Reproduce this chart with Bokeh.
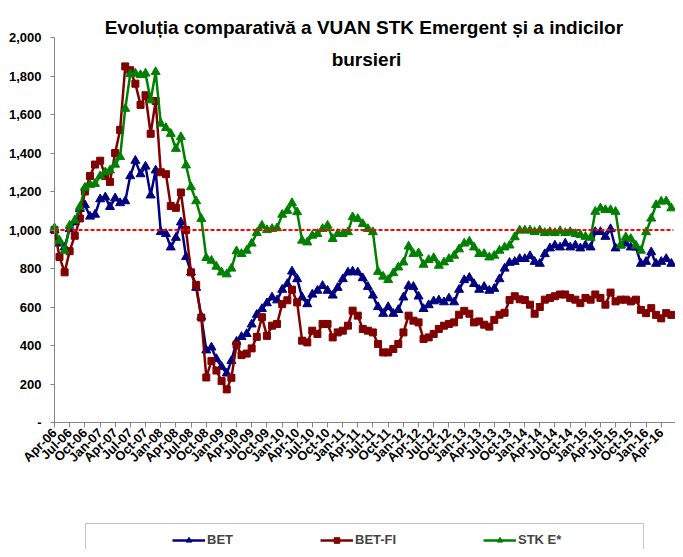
from math import pi
import pandas as pd
from bokeh.plotting import figure
from bokeh.models import (Range1d, Label, Legend, LegendItem, DatetimeTickFormatter,
                          MonthsTicker, CustomJSTickFormatter, FixedTicker, BoxAnnotation)
from bokeh.embed import file_html
from bokeh.resources import INLINE

first_month = "2006-04-01"

bet = [1000, 930, 910, 1005, 1040, 1110, 1130, 1070, 1080, 1160, 1170, 1120, 1165, 1140, 1150,
       1280, 1360, 1290, 1330, 1180, 1310, 990, 980, 910, 960, 1040, 860, 780, 700, 550,
       375, 390, 330, 290, 255, 320, 420, 445, 460, 510, 560, 590, 620, 650, 635,
       690, 720, 785, 745, 650, 615, 665, 685, 710, 685, 660, 700, 745, 780, 785,
       780, 750, 705, 660, 600, 565, 600, 565, 585, 650, 710, 705, 655, 590, 610,
       630, 635, 625, 645, 625, 690, 740, 752, 720, 690, 705, 685, 695, 745, 800,
       830, 835, 850, 850, 865, 835, 825, 875, 905, 920, 910, 930, 910, 920, 905,
       920, 910, 990, 990, 965, 1005, 905, 920, 930, 910, 910, 825, 835, 885, 825,
       835, 850, 825]

bet_fi = [1000, 860, 780, 890, 970, 1060, 1200, 1280, 1340, 1360, 1280, 1250, 1400, 1520, 1850,
          1830, 1760, 1650, 1700, 1500, 1670, 1300, 1290, 1125, 1115, 1195, 1000, 780, 715, 545,
          234, 320, 270, 215, 172, 232, 405, 350, 358, 385, 445, 547, 450, 503, 512,
          615, 635, 690, 624, 425, 416, 477, 460, 512, 512, 442, 468, 477, 503, 581,
          555, 486, 477, 468, 408, 364, 364, 382, 408, 468, 555, 529, 520, 434, 442,
          460, 486, 503, 512, 520, 560, 580, 565, 520, 525, 508, 498, 533, 560, 570,
          636, 656, 640, 636, 612, 565, 600, 638, 647, 656, 665, 665, 647, 638, 620,
          647, 638, 665, 647, 612, 675, 629, 638, 638, 629, 638, 585, 568, 594, 559,
          541, 568, 559]

stk_e = [1010, 945, 893, 1023, 1050, 1120, 1220, 1235, 1240, 1280, 1300, 1310, 1340, 1380, 1630,
         1810, 1813, 1805, 1813, 1674, 1821, 1553, 1530, 1500, 1422, 1483, 1336, 1223, 1150, 1058,
         855, 841, 810, 780, 770, 800, 890, 876, 893, 930, 985, 1023, 1000, 1006, 1010,
         1080, 1100, 1140, 1093, 945, 936, 971, 980, 1006, 1023, 954, 980, 980, 989, 1067,
         1058, 1032, 1006, 989, 783, 758, 741, 776, 806, 832, 915, 876, 880, 820, 845,
         855, 815, 832, 850, 867, 900, 930, 940, 910, 876, 876, 858, 867, 893, 910,
         920, 963, 998, 998, 998, 990, 998, 985, 990, 985, 995, 985, 990, 980, 975,
         965, 960, 1095, 1113, 1104, 1104, 1095, 920, 963, 954, 919, 893, 989, 1060, 1130,
         1148, 1150, 1113]

series_names = ["BET", "BET-FI", "STK E*"]
title_lines = ["Evoluția  comparativă a VUAN STK Emergent și a indicilor", "bursieri"]
y_ticks = list(range(0, 2001, 200))
reference_level = 1000

dates = pd.date_range(first_month, periods=len(bet), freq="MS")

FONT = "Liberation Sans"
W, H = 675, 549

# horizontal scale: first month at pixel 54, 2016-06-20 at pixel 674
t0 = dates[0].value / 1e6
t_end = pd.Timestamp("2016-06-20").value / 1e6
ms_per_px = (t_end - t0) / (674 - 54)
x_start = t0 - 54 * ms_per_px
x_stop = t_end + (W - 674) * ms_per_px

# vertical scale: 0 at pixel 422, 2000 at pixel 37
px_per_unit = (422 - 37) / 2000.0
y_top = 2000 + 37 / px_per_unit
y_bot = -(H - 422) / px_per_unit

p = figure(width=W, height=H, x_axis_type="datetime", output_backend="svg",
           toolbar_location=None,
           x_range=Range1d(x_start, x_stop), y_range=Range1d(y_bot, y_top),
           min_border_left=0, min_border_right=0, min_border_top=0, min_border_bottom=0)
p.grid.visible = False
p.outline_line_color = None

for ax in (p.xaxis[0], p.yaxis[0]):
    ax.axis_line_color = "#868686"
    ax.major_tick_line_color = "#868686"
    ax.minor_tick_line_color = None
    ax.major_tick_in = 0
    ax.major_label_text_font = FONT
    ax.major_label_text_font_style = "bold"
    ax.major_label_text_font_size = "13px"
    ax.major_label_text_color = "black"

p.xaxis.fixed_location = 0
p.xaxis.bounds = (t0, x_stop)
p.xaxis.major_tick_out = 5
p.xaxis.ticker = MonthsTicker(months=[0, 3, 6, 9])
p.xaxis.formatter = DatetimeTickFormatter(months="%b-%y", years="%b-%y", days="%b-%y")
p.xaxis.major_label_orientation = pi / 4
p.xaxis.major_label_standoff = 3

p.yaxis.fixed_location = t0
p.yaxis.bounds = (0, 2000)
p.yaxis.major_tick_out = 4
p.yaxis.ticker = FixedTicker(ticks=y_ticks)
p.yaxis.formatter = CustomJSTickFormatter(
    code="return tick == 0 ? '-' : Math.round(tick).toLocaleString('en-US');")
p.yaxis.major_label_standoff = 9

specs = [
    (bet, "#000080", "triangle", 9),
    (bet_fi, "#800000", "square", 7),
    (stk_e, "#008000", "triangle", 9),
]
renderers = []
for vals, color, marker, size in specs:
    ln = p.line(dates, vals, line_color=color, line_width=2.5)
    sc = p.scatter(dates, vals, marker=marker, size=size, fill_color=color, line_color=color)
    renderers.append([ln, sc])

# dashed reference level across the data period
p.segment(x0=[dates[0]], x1=[dates[-1] + pd.Timedelta(days=12)],
          y0=[reference_level], y1=[reference_level],
          line_color="#FF0000", line_dash="4 2", line_width=2)

# title (two lines), screen px relative to the frame's bottom-left
p.add_layout(Label(x=366, y=H - 27, x_units="screen", y_units="screen",
                   text=title_lines[0], text_align="center", text_baseline="middle",
                   text_font=FONT, text_font_style="bold", text_font_size="19px",
                   text_color="black"))
p.add_layout(Label(x=366, y=H - 59, x_units="screen", y_units="screen",
                   text=title_lines[1], text_align="center", text_baseline="middle",
                   text_font=FONT, text_font_style="bold", text_font_size="19px",
                   text_color="black"))

# legend box
p.add_layout(BoxAnnotation(left=85, right=643, top=26, bottom=-10,
                           left_units="screen", right_units="screen",
                           top_units="screen", bottom_units="screen",
                           fill_alpha=0, line_color="#404040", line_width=1))

legend_x = [172, 320, 483]
for name, rs, lx in zip(series_names, renderers, legend_x):
    lg = Legend(items=[LegendItem(label=name, renderers=rs)], location=(lx, 2),
                orientation="horizontal", border_line_color=None, background_fill_alpha=0,
                padding=0, margin=0, glyph_width=33, glyph_height=14, label_standoff=2,
                label_text_font=FONT, label_text_font_style="bold",
                label_text_font_size="13px")
    p.add_layout(lg, "center")

open("out.html", "w").write(file_html(p, INLINE))
